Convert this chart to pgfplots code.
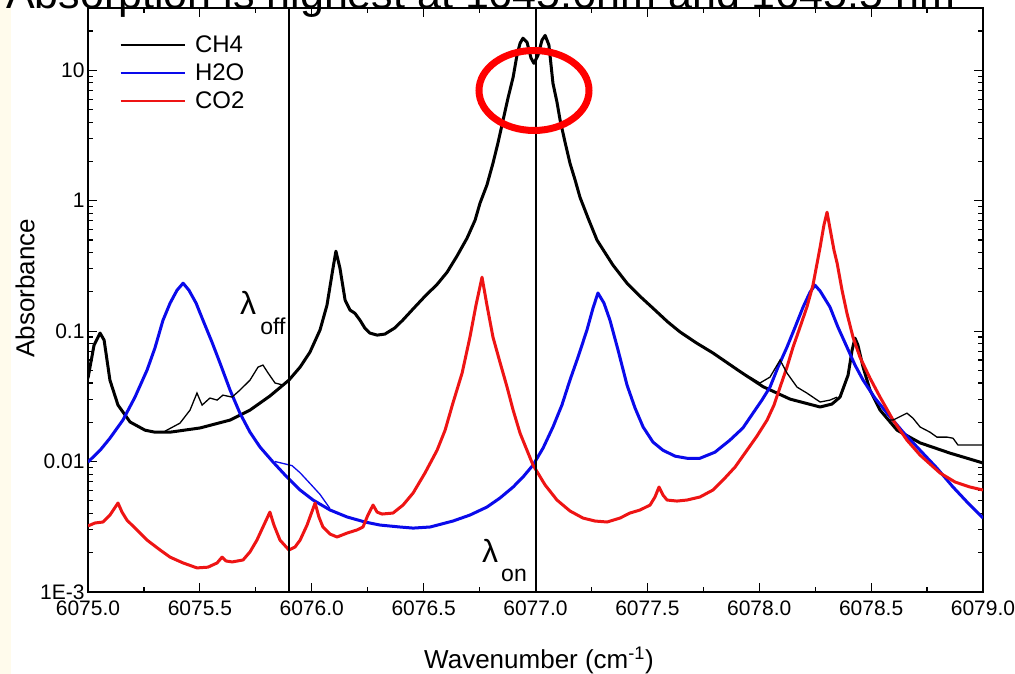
\documentclass[border=0pt]{standalone}
\usepackage{pgfplots}
\pgfplotsset{compat=1.18}
\usepackage{fontspec}
\setmainfont{Liberation Sans}
\definecolor{cream}{RGB}{255,251,236}
\definecolor{myblue}{RGB}{10,10,235}
\definecolor{myred}{RGB}{238,20,20}
\begin{document}
\begin{tikzpicture}[x=1pt,y=1pt]
\useasboundingbox (0,0) rectangle (1015,674);
\fill[white] (0,0) rectangle (1015,674);
\fill[cream] (0,0) rectangle (11,674);
\begin{axis}[
  at={(88pt,82pt)}, anchor=south west, scale only axis,
  width=895pt, height=584pt,
  xmin=6075, xmax=6079, ymode=log, ymin=0.001, ymax=30,
  xtick={6075,6075.5,6076,6076.5,6077,6077.5,6078,6078.5,6079},
  xticklabels={6075.0,6075.5,6076.0,6076.5,6077.0,6077.5,6078.0,6078.5,6079.0},
  minor xtick={6075.25,6075.75,6076.25,6076.75,6077.25,6077.75,6078.25,6078.75},
  ytick={0.001,0.01,0.1,1,10},
  yticklabels={1E-3,0.01,0.1,1,10},
  minor ytick={0.002,0.003,0.004,0.005,0.006,0.007,0.008,0.009,0.02,0.03,0.04,0.05,0.06,0.07,0.08,0.09,0.2,0.3,0.4,0.5,0.6,0.7,0.8,0.9,2,3,4,5,6,7,8,9,20,30},
  tick align=inside,
  major tick length=9pt, minor tick length=5pt,
  every tick/.style={black, line width=1.2pt},
  axis line style={line width=1.5pt},
  ticklabel style={font=\fontsize{21}{25}\selectfont},
  xticklabel style={yshift=-5pt},
  legend style={at={(axis description cs:0.035,0.955)}, anchor=north west, draw=none, fill=none,
    font=\fontsize{24}{28}\selectfont, row sep=8pt, inner sep=0pt, nodes={inner sep=1pt}},
  legend image code/.code={\draw[#1, line width=2pt] (0pt,0pt) -- (64pt,0pt); \path (72pt,0pt);},
  legend cell align=left,
]
% CH4 model
\addplot[black, line width=3pt, line join=round] coordinates {
(6075.000,0.0436) (6075.027,0.0781) (6075.054,0.0966) (6075.072,0.0853) (6075.098,0.0421)
(6075.134,0.0271) (6075.188,0.0201) (6075.255,0.0174) (6075.299,0.0168) (6075.367,0.0168)
(6075.501,0.0181) (6075.635,0.0208) (6075.724,0.0248) (6075.813,0.0318) (6075.898,0.0421)
(6075.948,0.0530) (6075.992,0.0690) (6076.037,0.102) (6076.068,0.158) (6076.095,0.304)
(6076.108,0.410) (6076.126,0.304) (6076.149,0.173) (6076.171,0.145) (6076.193,0.137)
(6076.216,0.121) (6076.238,0.105) (6076.260,0.0966) (6076.292,0.0932) (6076.327,0.0949)
(6076.372,0.106) (6076.408,0.122) (6076.453,0.148) (6076.506,0.185) (6076.560,0.228)
(6076.605,0.283) (6076.649,0.376) (6076.694,0.516) (6076.730,0.709) (6076.752,0.957)
(6076.783,1.32) (6076.810,1.94) (6076.832,2.76) (6076.855,4.14) (6076.877,6.11)
(6076.900,8.84) (6076.917,13.0) (6076.931,16.1) (6076.944,17.6) (6076.962,16.4)
(6076.980,12.4) (6076.993,11.3) (6077.011,13.0) (6077.029,17.0) (6077.043,18.5)
(6077.060,15.6) (6077.078,7.95) (6077.096,5.69) (6077.110,4.14) (6077.132,2.81)
(6077.154,1.94) (6077.177,1.44) (6077.199,1.06) (6077.235,0.735) (6077.275,0.498)
(6077.346,0.321) (6077.409,0.233) (6077.467,0.185) (6077.534,0.145) (6077.590,0.118)
(6077.646,0.0985) (6077.720,0.0810) (6077.793,0.0680) (6077.914,0.0490) (6078.017,0.0375)
(6078.138,0.0301) (6078.272,0.0262)
(6078.325,0.0276) (6078.361,0.0312) (6078.397,0.0460) (6078.415,0.0715) (6078.428,0.0884)
(6078.441,0.0781) (6078.464,0.0530) (6078.495,0.0353) (6078.540,0.0248) (6078.616,0.0174)
(6078.719,0.0139) (6078.853,0.0116) (6079.000,0.00975)
};
\addlegendentry{CH4}
% H2O
\addplot[myblue, line width=3pt, line join=round] coordinates {
(6075.000,0.00992) (6075.054,0.0122) (6075.098,0.0151) (6075.156,0.0208) (6075.210,0.0312)
(6075.264,0.0503) (6075.299,0.0741) (6075.335,0.121) (6075.367,0.164) (6075.398,0.206)
(6075.425,0.233) (6075.451,0.206) (6075.483,0.164) (6075.514,0.121) (6075.554,0.0824)
(6075.590,0.0569) (6075.635,0.0353) (6075.679,0.0235) (6075.724,0.0168) (6075.769,0.0129)
(6075.827,0.00992) (6075.889,0.00761) (6075.948,0.00605) (6076.006,0.00507) (6076.082,0.00425)
(6076.158,0.00376) (6076.238,0.00344) (6076.305,0.00326) (6076.394,0.00315) (6076.453,0.00309)
(6076.529,0.00315) (6076.631,0.00350) (6076.707,0.00389) (6076.783,0.00448) (6076.841,0.00525)
(6076.900,0.00638) (6076.944,0.00761) (6076.989,0.00940) (6077.034,0.0127) (6077.078,0.0184)
(6077.118,0.0271) (6077.154,0.0421) (6077.190,0.0632) (6077.230,0.102) (6077.257,0.150)
(6077.279,0.196) (6077.306,0.164) (6077.333,0.121) (6077.369,0.0715) (6077.409,0.0386)
(6077.445,0.0257) (6077.481,0.0184) (6077.525,0.0141) (6077.570,0.0122) (6077.624,0.0110)
(6077.677,0.0106) (6077.735,0.0106) (6077.802,0.0118) (6077.869,0.0146) (6077.927,0.0181)
(6077.972,0.0235) (6078.012,0.0296) (6078.048,0.0372) (6078.084,0.0530) (6078.124,0.0754)
(6078.160,0.107) (6078.196,0.153) (6078.227,0.199) (6078.249,0.225) (6078.272,0.203)
(6078.316,0.153) (6078.352,0.107) (6078.392,0.0754) (6078.428,0.0549) (6078.464,0.0421)
(6078.517,0.0307) (6078.571,0.0235) (6078.643,0.0168) (6078.719,0.0122) (6078.794,0.00891)
(6078.866,0.00638) (6078.933,0.00481) (6079.000,0.00369)
};
\addlegendentry{H2O}
% CO2
\addplot[myred, line width=3pt, line join=round] coordinates {
(6075.000,0.00321) (6075.031,0.00338) (6075.067,0.00344) (6075.098,0.00389) (6075.134,0.00481)
(6075.152,0.00410) (6075.174,0.00356) (6075.210,0.00309) (6075.264,0.00250) (6075.322,0.00210)
(6075.367,0.00185) (6075.425,0.00167) (6075.487,0.00153) (6075.536,0.00155) (6075.577,0.00167)
(6075.599,0.00185) (6075.617,0.00173) (6075.644,0.00170) (6075.693,0.00176) (6075.724,0.00203)
(6075.755,0.00250) (6075.782,0.00315) (6075.813,0.00410) (6075.831,0.00326) (6075.858,0.00250)
(6075.898,0.00210) (6075.925,0.00221) (6075.948,0.00250) (6075.979,0.00326) (6076.015,0.00481)
(6076.032,0.00376) (6076.050,0.00315) (6076.082,0.00278) (6076.113,0.00264) (6076.158,0.00283)
(6076.202,0.00299) (6076.229,0.00315) (6076.251,0.00389) (6076.274,0.00464) (6076.292,0.00410)
(6076.314,0.00396) (6076.363,0.00403) (6076.408,0.00464) (6076.453,0.00574) (6076.506,0.00817)
(6076.560,0.0122) (6076.596,0.0174) (6076.631,0.0281) (6076.672,0.0477) (6076.707,0.0899)
(6076.734,0.158) (6076.761,0.259) (6076.783,0.158) (6076.810,0.0899) (6076.841,0.0579)
(6076.873,0.0372) (6076.900,0.0248) (6076.931,0.0165) (6076.962,0.0122) (6076.989,0.00940)
(6077.043,0.00661) (6077.096,0.00507) (6077.154,0.00418) (6077.212,0.00369) (6077.266,0.00350)
(6077.320,0.00344) (6077.378,0.00369) (6077.422,0.00403) (6077.467,0.00425) (6077.512,0.00464)
(6077.534,0.00535) (6077.552,0.00638) (6077.570,0.00553) (6077.588,0.00507) (6077.632,0.00498)
(6077.677,0.00507) (6077.735,0.00535) (6077.793,0.00605) (6077.838,0.00721) (6077.892,0.00908)
(6077.945,0.0122) (6077.990,0.0157) (6078.035,0.0208) (6078.066,0.0271) (6078.093,0.0372)
(6078.124,0.0530) (6078.151,0.0754) (6078.182,0.107) (6078.213,0.153) (6078.240,0.225)
(6078.272,0.440) (6078.289,0.649) (6078.303,0.816) (6078.316,0.615) (6078.334,0.418)
(6078.348,0.332) (6078.370,0.206) (6078.392,0.137) (6078.419,0.0899) (6078.450,0.0632)
(6078.495,0.0436) (6078.540,0.0312) (6078.598,0.0208) (6078.660,0.0146) (6078.719,0.0112)
(6078.808,0.00817) (6078.875,0.00697) (6078.942,0.00638) (6079.000,0.00605)
};
\addlegendentry{CO2}
% CH4 measured (thin) deviations
\addplot[black, line width=1.3pt, forget plot] coordinates {
(6075.344,0.0171) (6075.411,0.0197) (6075.456,0.0248) (6075.487,0.0335) (6075.510,0.0271)
(6075.545,0.0307) (6075.577,0.0296) (6075.603,0.0323) (6075.644,0.0312) (6075.679,0.0353)
(6075.724,0.0421) (6075.760,0.0530) (6075.782,0.0549) (6075.805,0.0477) (6075.836,0.0400)
(6075.872,0.0386) (6075.898,0.0421)
};
\addplot[black, line width=1.3pt, forget plot] coordinates {
(6077.959,0.0444) (6078.003,0.0400) (6078.048,0.0444) (6078.093,0.0600) (6078.124,0.0477)
(6078.169,0.0372) (6078.213,0.0335) (6078.272,0.0286) (6078.316,0.0296) (6078.348,0.0312)
};
\addplot[black, line width=1.3pt, forget plot] coordinates {
(6078.571,0.0208) (6078.598,0.0208) (6078.660,0.0235) (6078.687,0.0215) (6078.719,0.0184)
(6078.763,0.0168) (6078.794,0.0154) (6078.839,0.0154) (6078.866,0.0151) (6078.888,0.0134)
(6078.942,0.0134) (6079.000,0.0134)
};
% H2O thin deviation
\addplot[myblue, line width=1.3pt, forget plot] coordinates {
(6075.836,0.0100) (6075.880,0.00960) (6075.912,0.00930) (6075.948,0.00820)
(6075.992,0.00680) (6076.037,0.00560) (6076.080,0.00440)
};
% lambda lines
\addplot[black, line width=2pt, forget plot] coordinates {(6075.9,0.001) (6075.9,30)};
\addplot[black, line width=2pt, forget plot] coordinates {(6077.0,0.001) (6077.0,30)};
\end{axis}
% labels
\node[font=\fontsize{26}{30}\selectfont] at (539,14) {Wavenumber (cm\textsuperscript{-1})};
\node[font=\fontsize{26}{30}\selectfont, rotate=90] at (25,386) {Absorbance};
% lambda annotations
\node[font=\fontsize{32}{36}\selectfont, inner sep=0pt] at (248,371) {λ};
\node[font=\fontsize{23}{26}\selectfont, inner sep=0pt] at (273,348) {off};
\node[font=\fontsize{32}{36}\selectfont, inner sep=0pt] at (490,123) {λ};
\node[font=\fontsize{23}{26}\selectfont, inner sep=0pt] at (514,99) {on};
% red ellipse
\draw[red, line width=7pt] (534,583.5) ellipse [x radius=55, y radius=40];
% clipped title
\node[anchor=base west, font=\fontsize{43}{50}\selectfont, inner sep=0pt] at (6,665) {Absorption is highest at 1645.6nm and 1645.5 nm};
\end{tikzpicture}
\end{document}
